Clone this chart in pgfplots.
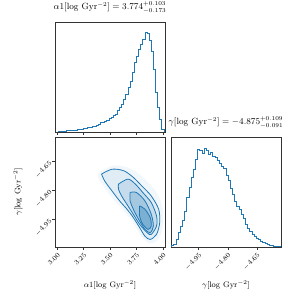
\documentclass[border=0pt]{standalone}
\usepackage{pgfplots}
\pgfplotsset{compat=1.18}
\definecolor{c0}{RGB}{31,119,180}
\begin{document}
\begin{tikzpicture}[x=1bp,y=1bp]
\path[use as bounding box] (0,0) rectangle (303,303);
\pgfplotsset{
  every axis/.append style={
    width=110bp, height=110bp, scale only axis,
    axis line style={black!80, line width=0.6bp},
    tick style={black!80, line width=0.5bp},
    major tick length=3bp, tick align=outside,
    xtick pos=bottom, ytick pos=left,
    tick label style={font=\fontsize{7}{8}\selectfont},
    label style={font=\fontsize{8}{9}\selectfont},
    title style={font=\fontsize{9}{10}\selectfont},
  },
}
% ---- top-left histogram alpha1
\begin{axis}[at={(55bp,171bp)}, anchor=south west,
  xmin=2.98, xmax=4.02, ymin=0, ymax=1.1,
  xtick={3.00,3.25,3.50,3.75,4.00}, xticklabels={},
  ytick=\empty,
  title={$\alpha1[\log\,\mathrm{Gyr}^{-2}] = 3.774^{+0.103}_{-0.173}$},
  title style={at={(axis description cs:0.5,1.077)}, anchor=center},
]
\addplot[c0, line width=0.8bp, const plot mark left] coordinates {
(3.01,0) (3.01,0.005) (3.03,0.007) (3.05,0.008) (3.07,0.010) (3.09,0.012)
(3.11,0.013) (3.13,0.015) (3.15,0.018) (3.17,0.020) (3.19,0.025)
(3.21,0.028) (3.23,0.030) (3.25,0.035) (3.27,0.040) (3.29,0.042)
(3.31,0.048) (3.33,0.052) (3.35,0.058) (3.37,0.065) (3.39,0.080)
(3.41,0.095) (3.43,0.100) (3.45,0.110) (3.47,0.120) (3.49,0.135)
(3.51,0.150) (3.53,0.165) (3.55,0.180) (3.57,0.220) (3.59,0.245)
(3.61,0.280) (3.63,0.330) (3.65,0.380) (3.67,0.450) (3.69,0.510)
(3.71,0.600) (3.73,0.700) (3.75,0.760) (3.77,0.830) (3.79,0.880)
(3.81,0.930) (3.83,1.000) (3.85,0.985) (3.87,0.920) (3.89,0.810)
(3.91,0.630) (3.93,0.400) (3.95,0.250) (3.97,0.130) (3.99,0.030)
(4.01,0)
};
\end{axis}
% ---- bottom-left 2D
\begin{axis}[at={(55bp,56bp)}, anchor=south west,
  xmin=2.98, xmax=4.02, ymin=-5.093, ymax=-4.526,
  xtick={3.00,3.25,3.50,3.75,4.00},
  xticklabels={3.00,3.25,3.50,3.75,4.00},
  ytick={-4.95,-4.80,-4.65},
  yticklabels={$-4.95$,$-4.80$,$-4.65$},
  xticklabel style={rotate=45, anchor=north east, inner sep=1.5bp},
  yticklabel style={rotate=45, anchor=east, inner sep=1.5bp},
  xlabel={$\alpha1[\log\,\mathrm{Gyr}^{-2}]$},
  ylabel={$\gamma[\log\,\mathrm{Gyr}^{-2}]$},
  xlabel style={at={(axis description cs:0.5,-0.345)}, anchor=center},
  ylabel style={at={(axis description cs:-0.336,0.5)}, anchor=center},
]
% density halo
\addplot[draw=none, fill=c0, fill opacity=0.06, smooth, tension=0.6] coordinates {
(3.39,-4.71) (3.52,-4.675) (3.65,-4.68) (3.76,-4.71) (3.86,-4.76) (3.95,-4.82)
(4.00,-4.90) (4.00,-4.98) (3.96,-5.05) (3.88,-5.075) (3.80,-5.04) (3.72,-4.97)
(3.62,-4.90) (3.52,-4.84) (3.44,-4.78) (3.39,-4.74) (3.39,-4.71)
};
% outer contour
\addplot[c0, line width=0.8bp, fill=c0, fill opacity=0.08, smooth, tension=0.5] coordinates {
(3.42,-4.717) (3.52,-4.692) (3.63,-4.700) (3.72,-4.734) (3.80,-4.778)
(3.89,-4.830) (3.96,-4.898) (3.97,-4.967) (3.94,-5.028) (3.88,-5.054)
(3.83,-5.037) (3.78,-4.993) (3.72,-4.941) (3.66,-4.898) (3.59,-4.855)
(3.53,-4.812) (3.47,-4.769) (3.44,-4.743) (3.42,-4.717)
};
% second contour
\addplot[c0, line width=0.8bp, fill=c0, fill opacity=0.14, smooth, tension=0.5] coordinates {
(3.58,-4.769) (3.67,-4.743) (3.74,-4.769) (3.81,-4.812) (3.89,-4.864)
(3.94,-4.933) (3.94,-4.985) (3.89,-5.028) (3.85,-5.019) (3.78,-4.976)
(3.72,-4.924) (3.66,-4.873) (3.61,-4.830) (3.58,-4.795) (3.58,-4.769)
};
% third contour
\addplot[c0, line width=0.8bp, fill=c0, fill opacity=0.2, smooth, tension=0.5] coordinates {
(3.69,-4.812) (3.75,-4.812) (3.83,-4.855) (3.89,-4.924) (3.91,-4.985)
(3.88,-5.019) (3.83,-5.002) (3.77,-4.950) (3.72,-4.898) (3.69,-4.855)
(3.69,-4.812)
};
% inner contour
\addplot[c0, line width=0.8bp, fill=c0, fill opacity=0.3, smooth, tension=0.5] coordinates {
(3.78,-4.881) (3.83,-4.898) (3.88,-4.941) (3.89,-4.985) (3.86,-5.002)
(3.81,-4.976) (3.78,-4.933) (3.78,-4.881)
};
\end{axis}
% ---- bottom-right histogram gamma
\begin{axis}[at={(171bp,56bp)}, anchor=south west,
  xmin=-5.093, xmax=-4.526, ymin=0, ymax=1.1,
  xtick={-4.95,-4.80,-4.65},
  xticklabels={$-4.95$,$-4.80$,$-4.65$},
  xticklabel style={rotate=45, anchor=north east, inner sep=1.5bp},
  ytick=\empty,
  xlabel={$\gamma[\log\,\mathrm{Gyr}^{-2}]$},
  xlabel style={at={(axis description cs:0.5,-0.345)}, anchor=center},
  title={$\gamma[\log\,\mathrm{Gyr}^{-2}] = -4.875^{+0.109}_{-0.091}$},
  title style={at={(axis description cs:0.5,1.077)}, anchor=center},
]
\addplot[c0, line width=0.8bp, const plot mark left] coordinates {
(-5.0900,0) (-5.0900,0.015) (-5.0788,0.03) (-5.0676,0.08) (-5.0564,0.15)
(-5.0452,0.21) (-5.0340,0.27) (-5.0228,0.36) (-5.0116,0.50) (-5.0004,0.60)
(-4.9892,0.70) (-4.9780,0.78) (-4.9668,0.88) (-4.9556,0.98) (-4.9444,0.97)
(-4.9332,0.94) (-4.9220,0.99) (-4.9108,0.97) (-4.8996,0.93) (-4.8884,0.95)
(-4.8772,0.91) (-4.8660,0.90) (-4.8548,0.87) (-4.8436,0.84) (-4.8324,0.81)
(-4.8212,0.79) (-4.8100,0.72) (-4.7988,0.67) (-4.7876,0.59) (-4.7764,0.53)
(-4.7652,0.46) (-4.7540,0.41) (-4.7428,0.38) (-4.7316,0.33) (-4.7204,0.29)
(-4.7092,0.23) (-4.6980,0.19) (-4.6868,0.16) (-4.6756,0.13) (-4.6644,0.11)
(-4.6532,0.09) (-4.6420,0.075) (-4.6308,0.06) (-4.6196,0.05) (-4.6084,0.035)
(-4.5972,0.03) (-4.5860,0.02) (-4.5748,0.012) (-4.5636,0.01) (-4.5524,0.006)
(-4.5412,0.004) (-4.5300,0)
};
\end{axis}
\end{tikzpicture}
\end{document}
